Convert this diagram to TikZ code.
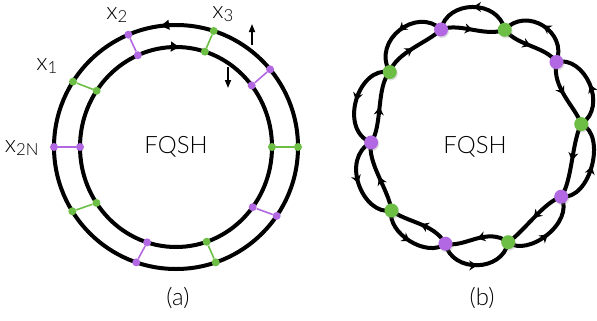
\documentclass[tikz,border=0pt]{standalone}
\usepackage{fontspec}
\setmainfont{Lato Light}
\usetikzlibrary{arrows.meta,decorations.markings,shadows}
\definecolor{dotgreen}{RGB}{108,190,69}
\definecolor{dotpurple}{RGB}{178,104,226}

\begin{document}
\begin{tikzpicture}[x=1bp,y=1bp,
        ring/.style={line width=4bp},
        link/.style={line width=1.6bp},
        smalldot/.style={circle,fill,inner sep=0pt,minimum size=8bp},
        bigdot/.style={circle,fill,inner sep=0pt,minimum size=14bp,drop shadow={shadow xshift=1bp,shadow yshift=-1.5bp,opacity=0.25}},
        flow/.style={postaction={decorate},decoration={markings,mark=at position 0.5 with {\arrow{Stealth[length=8bp,width=10bp]}}}},
        lbl/.style={font=\fontsize{24}{28}\selectfont}]
    \useasboundingbox (0,0) rectangle (597,320);
    % (a) two counter-propagating edges and the links between them
    \begin{scope}[shift={(176,173)}]
        \draw[ring,postaction={decorate},decoration={markings,mark=at position 0.272 with {\arrow{Latex[length=10bp,width=11bp]}}}] (0,0) circle (122bp);
        \draw[ring,postaction={decorate},decoration={markings,mark=at position 0.242 with {\arrowreversed{Latex[length=10bp,width=11bp]}}}] (0,0) ellipse (96bp and 100bp);
        \foreach \i/\c/\ao/\ai in {0/dotgreen/0/0, 1/dotpurple/39.5/38, 2/dotgreen/72/72.5, 3/dotpurple/113/113.4, 4/dotgreen/147.6/145.8,
                5/dotpurple/180/180, 6/dotgreen/211.8/214, 7/dotpurple/251/252.5, 8/dotgreen/289/288.6, 9/dotpurple/325.6/323}{
            \node[smalldot,\c] (o\i) at (\ao:122) {};
            \node[smalldot,\c] (n\i) at (\ai:96 and 100) {};
            \draw[link,\c] (o\i) -- (n\i);
        }
    \end{scope}
    \node[lbl] (fqshA) at (176,173) {FQSH};
    \node[lbl] (x1) at (47,254) {x\textsubscript{1}};
    \node[lbl] (x2) at (117,305) {x\textsubscript{2}};
    \node[lbl] (x3) at (223,306) {x\textsubscript{3}};
    \node[lbl] (x2N) at (22,172) {x\textsubscript{2N}};
    \coordinate (upS) at (252,275);
    \coordinate (upE) at (252,296);
    \coordinate (dnS) at (228,253);
    \coordinate (dnE) at (228,232);
    \draw[line width=1.6bp,-{Triangle[length=8bp,width=6bp]}] (upS) -- (upE);
    \draw[line width=1.6bp,-{Triangle[length=8bp,width=6bp]}] (dnS) -- (dnE);
    \node[lbl] (capA) at (178,22) {(a)};

    % (b) droplets
    \begin{scope}[shift={(476,183)}]
        \foreach \i/\a/\r in {0/7/106, 1/43/110, 2/75/111, 3/108/113, 4/143/108, 5/183/105, 6/221/112, 7/254/111, 8/287/110, 9/325/104}
            \coordinate (d\i) at (\a:\r);
        \foreach \i/\j/\a/\b/\ro/\rp/\rq in {0/1/7/43/136/90/104, 1/2/43/75/140/100/114, 2/3/75/108/140/116/100, 3/4/108/143/143/116/106,
                4/5/143/183/138/94/112, 5/6/183/221/138/102/112, 6/7/221/254/131/96/110, 7/8/254/287/138/90/112, 8/9/287/325/131/94/106, 9/0/325/367/131/96/106}{
            \draw[ring,flow] (d\i) .. controls (\a+6:\ro) and (\b-6:\ro) .. (d\j);
            \draw[ring,flow] (d\j) .. controls (\b-10:\rp) and (\a+10:\rq) .. (d\i);
        }
        \foreach \i/\c in {0/dotgreen, 1/dotpurple, 2/dotgreen, 3/dotpurple, 4/dotgreen, 5/dotpurple, 6/dotgreen, 7/dotpurple, 8/dotgreen, 9/dotpurple}
            \node[bigdot,\c] (dot\i) at (d\i) {};
    \end{scope}
    \node[lbl] (fqshB) at (475,173) {FQSH};
    \node[lbl] (capB) at (482,22) {(b)};
\end{tikzpicture}
\end{document}
